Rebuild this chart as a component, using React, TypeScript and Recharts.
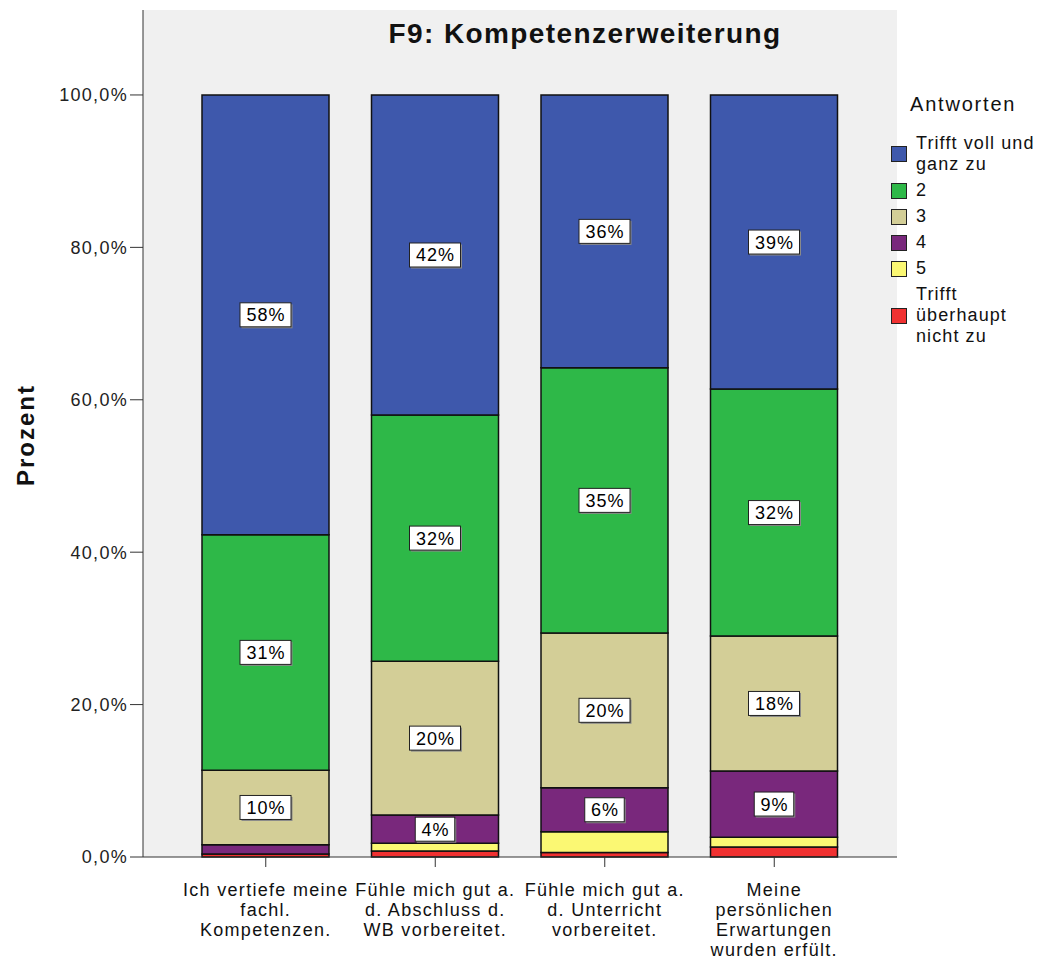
import React from 'react';
import { BarChart, Bar, XAxis, YAxis, CartesianGrid, LabelList } from 'recharts';

const categories = [
  'Ich vertiefe meine\nfachl.\nKompetenzen.',
  'Fühle mich gut a.\nd. Abschluss d.\nWB vorbereitet.',
  'Fühle mich gut a.\nd. Unterricht\nvorbereitet.',
  'Meine\npersönlichen\nErwartungen\nwurden erfült.',
];

const trifftVoll = [57.7, 42.0, 35.8, 38.6];
const antwort2 = [30.9, 32.3, 34.8, 32.4];
const antwort3 = [9.8, 20.2, 20.3, 17.7];
const antwort4 = [1.2, 3.7, 5.8, 8.7];
const antwort5 = [0, 1.0, 2.7, 1.3];
const trifftNicht = [0.4, 0.8, 0.6, 1.3];

const yTicks = [0, 20, 40, 60, 80, 100];

// stacking order: bottom first
const series = [
  { key: 'nicht', name: 'Trifft\nüberhaupt\nnicht zu', color: '#f03131', values: trifftNicht },
  { key: 's5', name: '5', color: '#fbf873', values: antwort5 },
  { key: 's4', name: '4', color: '#79287c', values: antwort4 },
  { key: 's3', name: '3', color: '#d3ce97', values: antwort3 },
  { key: 's2', name: '2', color: '#2eb848', values: antwort2 },
  { key: 'voll', name: 'Trifft voll und\nganz zu', color: '#3e58ac', values: trifftVoll },
];

const data = categories.map((cat, i) => {
  const row: Record<string, any> = { cat };
  series.forEach((s) => (row[s.key] = s.values[i]));
  return row;
});

const FONT = 'Arial, "Liberation Sans", sans-serif';

const SegmentLabel = (props: any) => {
  const { x, y, width, height, value } = props;
  if (value == null || value < 3.5) return null;
  const txt = `${Math.round(value)}%`;
  const w = (txt.length - 1) * 11.5 + 18 + 10;
  const h = 24;
  const cx = x + width / 2;
  const cy = y + height / 2;
  return (
    <g>
      <rect x={cx - w / 2 + 1.5} y={cy - h / 2 + 1.5} width={w} height={h} fill="#8a8a8a" />
      <rect x={cx - w / 2} y={cy - h / 2} width={w} height={h} fill="#fff" stroke="#222" strokeWidth={1} />
      <text
        x={cx + 0.5}
        y={cy + 6.5}
        textAnchor="middle"
        fontSize={18}
        letterSpacing={1}
        fontFamily={FONT}
        fill="#000"
      >
        {txt}
      </text>
    </g>
  );
};

const CatTick = (props: any) => {
  const { x, y, payload } = props;
  const lines = String(payload.value).split('\n');
  return (
    <text x={x} y={y + 14} textAnchor="middle" fontSize={18} letterSpacing={1.3} fontFamily={FONT} fill="#111">
      {lines.map((l, i) => (
        <tspan key={i} x={x} dy={i === 0 ? 13 : 20}>
          {l}
        </tspan>
      ))}
    </text>
  );
};

const Legend = () => {
  const items = [...series].reverse();
  return (
    <div style={{ position: 'absolute', left: 891, top: 92, fontFamily: FONT, color: '#111' }}>
      <div style={{ fontSize: 20, lineHeight: '24px', letterSpacing: 1.8, marginLeft: 19, marginBottom: 17 }}>
        Antworten
      </div>
      {items.map((s) => (
        <div key={s.key} style={{ display: 'flex', alignItems: 'center', marginBottom: 5 }}>
          <div
            style={{
              width: 14,
              height: 14,
              background: s.color,
              border: '1px solid #222',
              marginRight: 9,
              flexShrink: 0,
            }}
          />
          <div style={{ fontSize: 18, lineHeight: '21px', letterSpacing: 1.1, whiteSpace: 'pre' }}>{s.name}</div>
        </div>
      ))}
    </div>
  );
};

export default function App() {
  return (
    <div style={{ position: 'absolute', left: 0, top: 0, width: 1042, height: 960, background: '#fff' }}>
      <BarChart
        width={1042}
        height={960}
        data={data}
        margin={{ top: 10, right: 145, bottom: 0, left: 23 }}
        barSize={127}
      >
        <CartesianGrid fill="#f0f0f0" horizontal={false} vertical={false} />
        <XAxis
          dataKey="cat"
          padding={{ left: 38, right: 38 }}
          height={103}
          tick={<CatTick />}
          tickSize={10}
          interval={0}
          axisLine={{ stroke: '#333' }}
          tickLine={{ stroke: '#333' }}
        />
        <XAxis xAxisId="top" dataKey="cat" orientation="top" height={0} tick={false} tickLine={false} axisLine={{ stroke: '#333' }} />
        <YAxis
          width={120}
          domain={[0, 111.15]}
          ticks={yTicks}
          tickFormatter={(v: number) => `${v.toFixed(1).replace('.', ',')}%`}
          tick={{ fontSize: 18, fontFamily: FONT, fill: '#222', letterSpacing: 1.3 }}
          tickSize={13}
          axisLine={{ stroke: '#333' }}
          tickLine={{ stroke: '#333' }}
        />
        <YAxis yAxisId="right" orientation="right" width={0} domain={[0, 111.15]} tick={false} tickLine={false} axisLine={{ stroke: '#333' }} />
        {series.map((s) => (
          <Bar key={s.key} dataKey={s.key} stackId="a" fill={s.color} stroke="#111" strokeWidth={1.5} isAnimationActive={false}>
            <LabelList dataKey={s.key} content={<SegmentLabel />} />
          </Bar>
        ))}
      </BarChart>
      <div
        style={{
          position: 'absolute',
          left: 335,
          top: 18,
          width: 500,
          textAlign: 'center',
          fontFamily: FONT,
          fontWeight: 'bold',
          fontSize: 28,
          letterSpacing: 1.4,
          color: '#111',
        }}
      >
        F9: Kompetenzerweiterung
      </div>
      <div
        style={{
          position: 'absolute',
          left: 26,
          top: 435,
          transform: 'translate(-50%, -50%) rotate(-90deg)',
          fontFamily: FONT,
          fontWeight: 'bold',
          fontSize: 24,
          letterSpacing: 2,
          color: '#111',
          whiteSpace: 'nowrap',
        }}
      >
        Prozent
      </div>
      <Legend />
    </div>
  );
}
